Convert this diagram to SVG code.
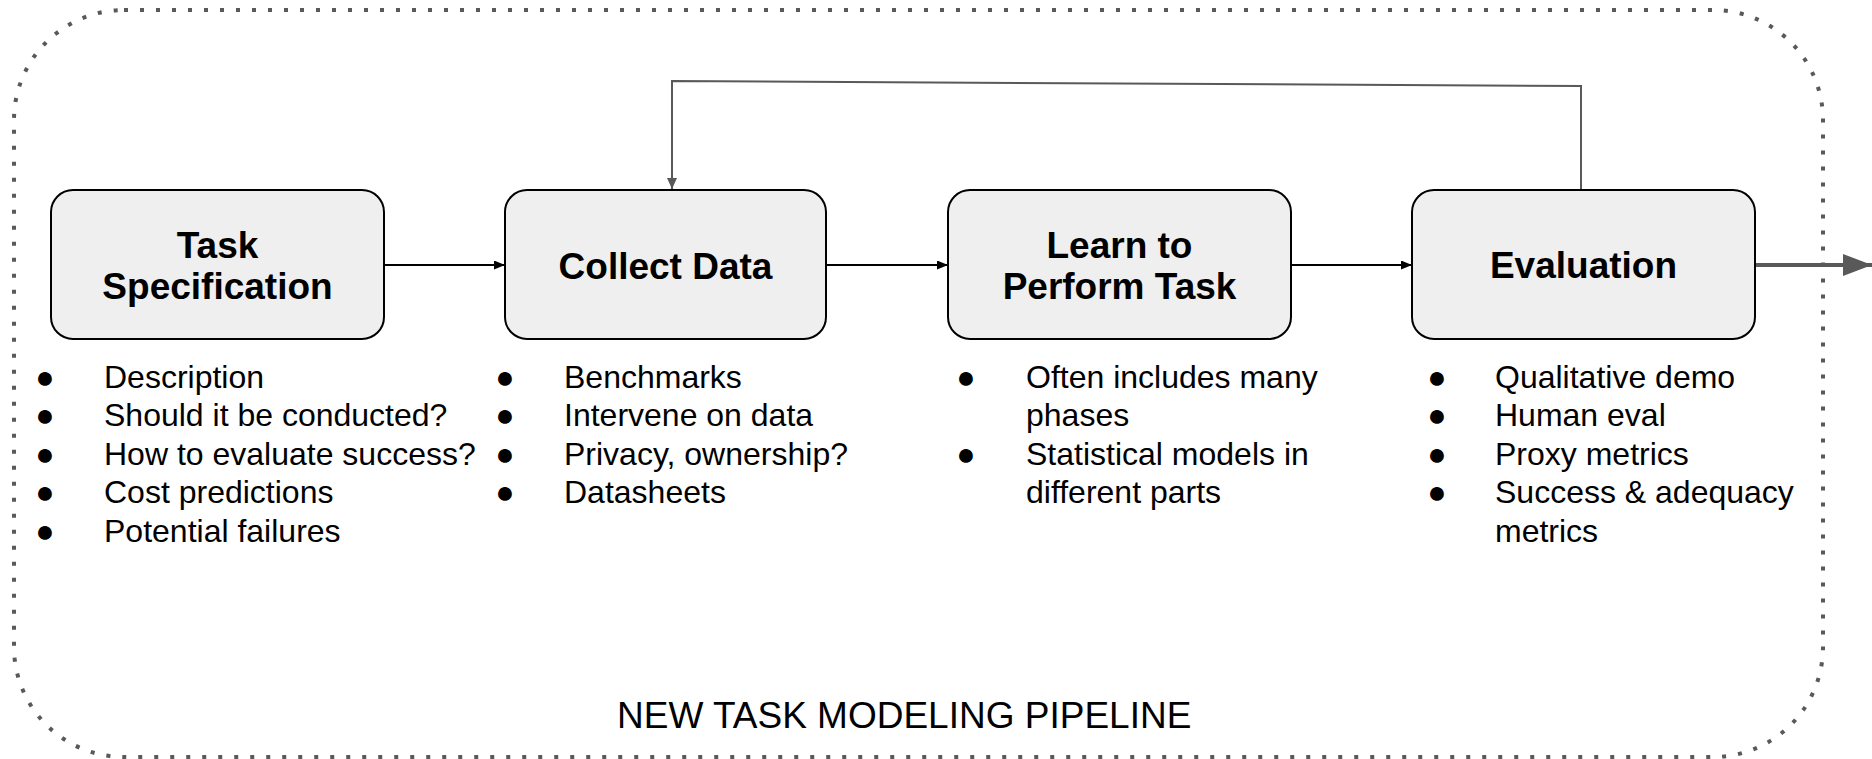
<svg xmlns="http://www.w3.org/2000/svg" width="1872" height="759" viewBox="0 0 1872 759">
  <style>
    .frame { fill: none; stroke: #595959; stroke-width: 4; stroke-dasharray: 4 12; }
    .node rect { fill: #efefef; stroke: #000000; stroke-width: 2; }
    .title { font-family: "Liberation Sans", Arial, sans-serif; font-size: 37px; font-weight: bold; fill: #000000; text-anchor: middle; }
    .item { font-family: "Liberation Sans", Arial, sans-serif; font-size: 32px; fill: #000000; }
    .dot { font-family: "Liberation Sans", "DejaVu Sans", sans-serif; font-size: 32px; fill: #000000; text-anchor: middle; }
    .caption { font-family: "Liberation Sans", Arial, sans-serif; font-size: 37px; fill: #000000; }
    .flow { stroke: #000000; stroke-width: 2; fill: none; }
    .loop { stroke: #595959; stroke-width: 2; fill: none; }
    .out { stroke: #595959; stroke-width: 4; fill: none; }
  </style>
  <defs>
    <marker id="headBlack" markerUnits="userSpaceOnUse" markerWidth="11" markerHeight="9" refX="11" refY="4.5" orient="auto">
      <path d="M0,0 L11,4.5 L0,9 Z" fill="#000000"/>
    </marker>
    <marker id="headGray" markerUnits="userSpaceOnUse" markerWidth="11" markerHeight="10" refX="11" refY="5" orient="auto">
      <path d="M0,0 L11,5 L0,10 Z" fill="#595959"/>
    </marker>
    <marker id="headBig" markerUnits="userSpaceOnUse" markerWidth="29" markerHeight="22" refX="29" refY="11" orient="auto">
      <path d="M0,0 L29,11 L0,22 Z" fill="#595959"/>
    </marker>
  </defs>

  <!-- dotted pipeline frame -->
  <rect class="frame" x="14" y="10" width="1809" height="747" rx="110" ry="110"/>
  <text class="caption" x="617" y="728">NEW TASK MODELING PIPELINE</text>

  <!-- connectors -->
  <g id="connectors">
    <line class="flow" x1="384" y1="265" x2="505" y2="265" marker-end="url(#headBlack)"/>
    <line class="flow" x1="826" y1="265" x2="948" y2="265" marker-end="url(#headBlack)"/>
    <line class="flow" x1="1291" y1="265" x2="1412" y2="265" marker-end="url(#headBlack)"/>
    <polyline class="loop" points="1581,190 1581,86 672,81 672,189" marker-end="url(#headGray)"/>
    <line class="out" x1="1755" y1="265" x2="1872" y2="265" marker-end="url(#headBig)"/>
  </g>

  <!-- stage nodes -->
  <g id="task-specification" class="node">
    <rect x="51" y="190" width="333" height="149" rx="22" ry="22"/>
    <text class="title" x="217.5" y="258">Task</text>
    <text class="title" x="217.5" y="299">Specification</text>
  </g>
  <g id="collect-data" class="node">
    <rect x="505" y="190" width="321" height="149" rx="22" ry="22"/>
    <text class="title" x="665.5" y="279">Collect Data</text>
  </g>
  <g id="learn-to-perform-task" class="node">
    <rect x="948" y="190" width="343" height="149" rx="22" ry="22"/>
    <text class="title" x="1119.5" y="258">Learn to</text>
    <text class="title" x="1119.5" y="299">Perform Task</text>
  </g>
  <g id="evaluation" class="node">
    <rect x="1412" y="190" width="343" height="149" rx="22" ry="22"/>
    <text class="title" x="1583.5" y="278">Evaluation</text>
  </g>

  <!-- bullet lists under each stage -->
  <g id="notes-task-specification">
    <text class="dot" x="45" y="388">●</text><text class="item" x="104" y="388">Description</text>
    <text class="dot" x="45" y="426.4">●</text><text class="item" x="104" y="426.4">Should it be conducted?</text>
    <text class="dot" x="45" y="464.8">●</text><text class="item" x="104" y="464.8">How to evaluate success?</text>
    <text class="dot" x="45" y="503.2">●</text><text class="item" x="104" y="503.2">Cost predictions</text>
    <text class="dot" x="45" y="541.6">●</text><text class="item" x="104" y="541.6">Potential failures</text>
  </g>
  <g id="notes-collect-data">
    <text class="dot" x="505" y="388">●</text><text class="item" x="564" y="388">Benchmarks</text>
    <text class="dot" x="505" y="426.4">●</text><text class="item" x="564" y="426.4">Intervene on data</text>
    <text class="dot" x="505" y="464.8">●</text><text class="item" x="564" y="464.8">Privacy, ownership?</text>
    <text class="dot" x="505" y="503.2">●</text><text class="item" x="564" y="503.2">Datasheets</text>
  </g>
  <g id="notes-learn-to-perform-task">
    <text class="dot" x="966" y="388">●</text><text class="item" x="1026" y="388">Often includes many</text>
    <text class="item" x="1026" y="426.4">phases</text>
    <text class="dot" x="966" y="464.8">●</text><text class="item" x="1026" y="464.8">Statistical models in</text>
    <text class="item" x="1026" y="503.2">different parts</text>
  </g>
  <g id="notes-evaluation">
    <text class="dot" x="1437" y="388">●</text><text class="item" x="1495" y="388">Qualitative demo</text>
    <text class="dot" x="1437" y="426.4">●</text><text class="item" x="1495" y="426.4">Human eval</text>
    <text class="dot" x="1437" y="464.8">●</text><text class="item" x="1495" y="464.8">Proxy metrics</text>
    <text class="dot" x="1437" y="503.2">●</text><text class="item" x="1495" y="503.2">Success &amp; adequacy</text>
    <text class="item" x="1495" y="541.6">metrics</text>
  </g>
</svg>
